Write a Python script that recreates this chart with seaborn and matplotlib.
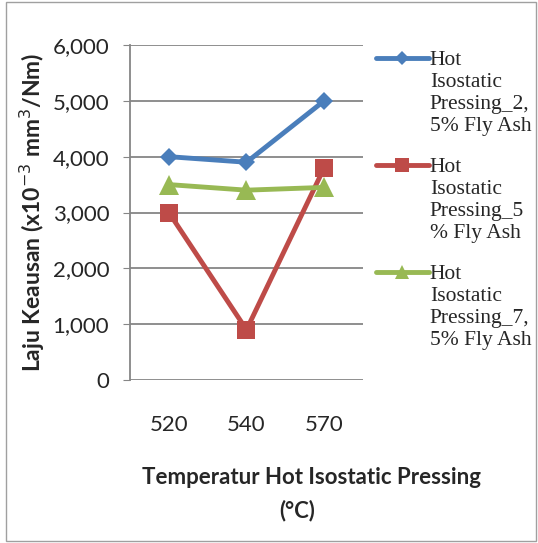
import pandas as pd
import seaborn as sns
import matplotlib.pyplot as plt
from matplotlib.patches import Rectangle
from matplotlib.legend_handler import HandlerLine2D

# data
temps = ['520', '540', '570']
series_names = ['Hot\nIsostatic\nPressing_2,\n5% Fly Ash',
                'Hot\nIsostatic\nPressing_5\n% Fly Ash',
                'Hot\nIsostatic\nPressing_7,\n5% Fly Ash']
wear_2_5 = [4000, 3900, 5000]
wear_5 = [3000, 900, 3800]
wear_7_5 = [3500, 3400, 3450]

colors = ['#4A7EBB', '#BE4B48', '#98B954']
markers = ['D', 's', '^']
marker_sizes = [9.5, 12.5, 14]

rows = []
for name, vals in zip(series_names, [wear_2_5, wear_5, wear_7_5]):
    for t, v in zip(temps, vals):
        rows.append({'Temp': t, 'Wear': v, 'Series': name})
df = pd.DataFrame(rows)


# legend handle sitting on the first text line instead of the middle
class TopLineHandler(HandlerLine2D):
    def __init__(self, shift, **kw):
        super().__init__(**kw)
        self.shift = shift

    def create_artists(self, *args, **kwargs):
        artists = super().create_artists(*args, **kwargs)
        for a in artists:
            a.set_ydata([y + self.shift for y in a.get_ydata()])
        return artists


sns.set_style('white')
plt.rcParams['font.family'] = ['Lato', 'DejaVu Sans']

fig = plt.figure(figsize=(5.38, 5.43), dpi=100)
ax = fig.add_axes([130 / 538, 1 - 380 / 543, 233 / 538, 335 / 543])

sns.lineplot(data=df, x='Temp', y='Wear', hue='Series', style='Series',
             palette=colors, markers=markers, dashes=False, linewidth=3.5,
             markeredgewidth=0, sort=False, legend=False, ax=ax)
for line, ms in zip(ax.lines, marker_sizes):
    line.set_markersize(ms)

ax.set_xlim(-0.5, 2.5)
ax.set_ylim(0, 6000)
ax.set_yticks(range(0, 6001, 1000))
ax.set_yticklabels([f'{v:,}' for v in range(0, 6001, 1000)])
ax.yaxis.grid(True, color='#868686', linewidth=1.3)
ax.set_axisbelow(True)
for s in ['top', 'right', 'bottom']:
    ax.spines[s].set_visible(False)
ax.spines['left'].set_color('#868686')
ax.spines['left'].set_linewidth(1.3)
ax.tick_params(axis='y', which='both', left=True, length=5, color='#868686',
               labelsize=16, pad=10)
ax.tick_params(axis='x', bottom=False, labelsize=16, pad=22)
ax.set_xlabel('')
ax.set_ylabel('Laju Keausan (x10$^{-3}$ mm$^{3}$/Nm)', fontsize=16.5,
              fontweight='bold', labelpad=4)

fig.text(312 / 538, 1 - 478 / 543, 'Temperatur Hot Isostatic Pressing',
         ha='center', va='center', fontsize=16, fontweight='bold')
fig.text(297 / 538, 1 - 511 / 543, '(°C)', ha='center', va='center',
         fontsize=16, fontweight='bold')

leg = ax.legend(ax.lines[:3], series_names, loc='upper left',
                bbox_to_anchor=(376 / 538, 1 - 51 / 543),
                bbox_transform=fig.transFigure, frameon=False,
                prop={'family': 'Liberation Serif', 'size': 15.5},
                handlelength=2.45, handletextpad=0.05, labelspacing=1.0,
                borderaxespad=0, borderpad=0, markerscale=0.75,
                handler_map={plt.Line2D: TopLineHandler(shift=25)})
for t in leg.get_texts():
    t.set_linespacing(1.22)

# thin border around the whole chart
fig.patches.append(Rectangle((0.012, 0.003), 0.985, 0.994,
                             transform=fig.transFigure, fill=False,
                             edgecolor='#a0a0a0', linewidth=1))

fig.savefig('out.png', dpi=100)
